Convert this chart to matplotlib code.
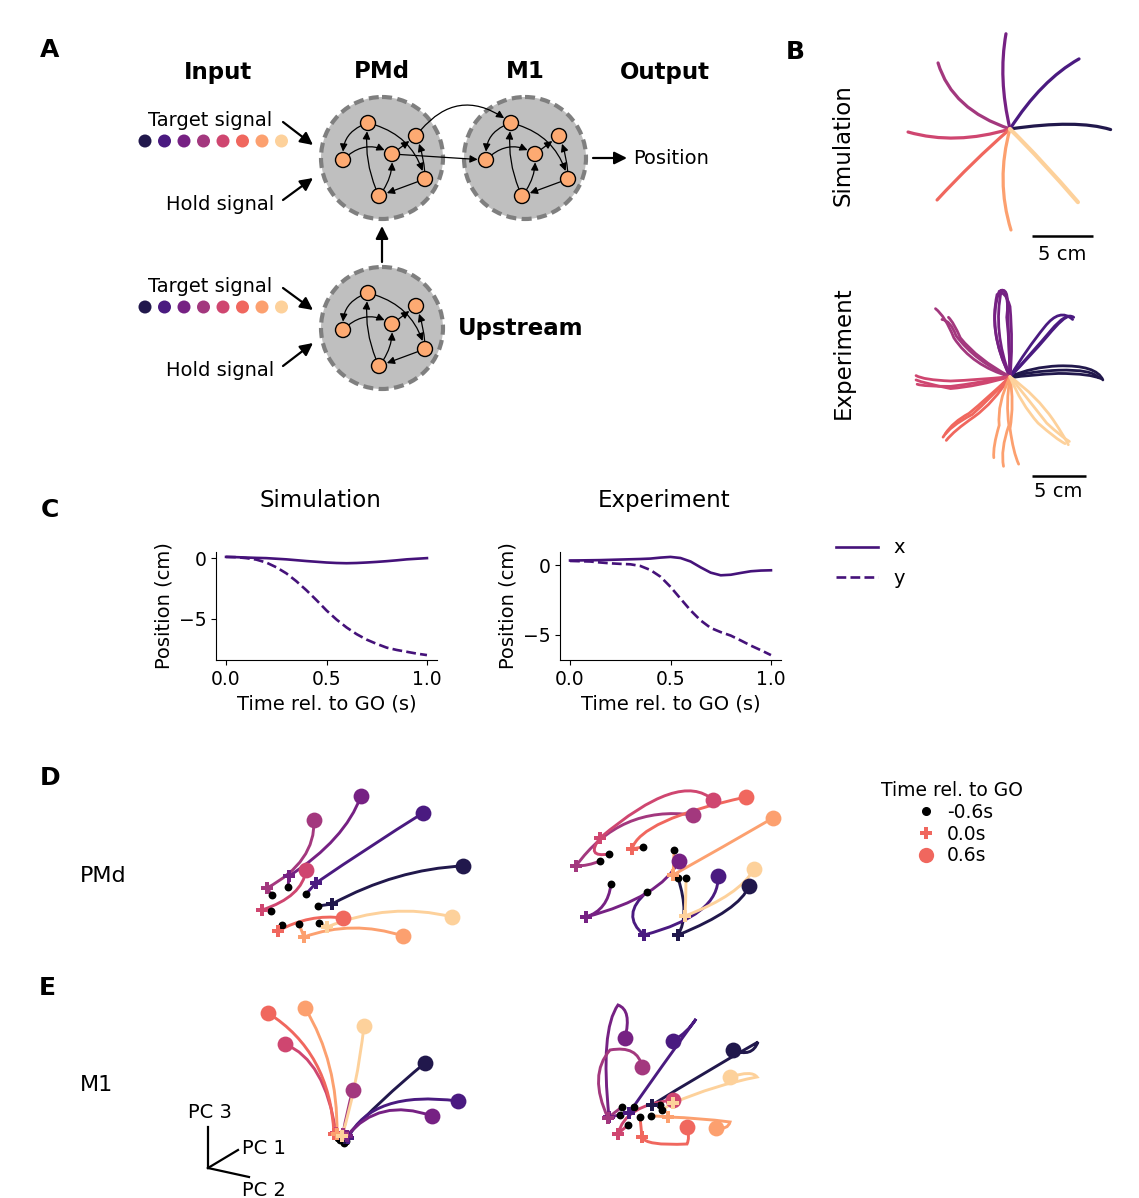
import numpy as np
import matplotlib
matplotlib.use("Agg")
import matplotlib.pyplot as plt
from matplotlib.path import Path
from matplotlib.patches import PathPatch, Circle, FancyArrowPatch
from matplotlib.lines import Line2D

plt.rcParams["font.family"] = "DejaVu Sans"
plt.rcParams["font.size"] = 14

# ---- data ----
TARGET_COLORS = ["#21184c", "#4a1a80", "#762183", "#a3387e",
                 "#cf4670", "#f0675e", "#fca06f", "#fdd19b"]

# panel A schematic: node offsets from module centre, edges (from, to, curvature)
NODE_DX = [-14, 34, -39, 10, 43, -3]
NODE_DY = [-35, -22, 2, -4, 21, 38]
EDGES = [(0, 2, 0.4), (2, 3, -0.4), (0, 4, -0.3), (5, 0, -0.15),
         (5, 3, 0.2), (4, 5, 0.0), (4, 1, 0.1), (3, 1, 0.0)]
MODULES = {"PMd": (382, 158), "M1": (525, 158), "Upstream": (382, 328)}

# panel B simulation reaches (cm): quadratic control point and end point
SIM_CTRL = [(5.5, 0.8), (2.57, 4.01), (-0.98, 4.14), (-4.75, 1.56),
            (-4.5, -1.36), (-3.07, -2.67), (-1.18, -4.22), (2.62, -2.58)]
SIM_END = [(8.25, -0.05), (5.66, 5.74), (-0.33, 7.8), (-5.9, 5.41),
           (-8.36, -0.25), (-5.98, -5.82), (0.08, -8.28), (5.57, -6.0)]

# panel B experimental reaches (cm), three trials per target
EXP_REACHES = [
    [[(0, 0), (2, 0.9), (4.5, 1.0), (8, 1.1), (8.6, -0.3)],
     [(0, 0), (2, 0.5), (4.5, 0.6), (7.6, 0.7), (8.2, -0.1)],
     [(0, -0.1), (2, 0.2), (4.5, 0.3), (7.4, 0.3), (8.5, -0.2)]],
    [[(0, 0), (1.5, 2.5), (3.2, 4.6), (4.6, 6.4), (5.8, 5.3)],
     [(0, 0), (2.2, 2.4), (3.8, 4.3), (5.2, 6.0), (5.9, 5.5)],
     [(0, 0), (1.8, 1.8), (3.5, 3.8), (5.0, 5.6), (5.5, 5.6)]],
    [[(0, 0), (-2.2, 4.5), (-1.0, 7.9), (-0.2, 8.4), (-0.2, 6.0), (-0.1, 3.0), (0, 0)],
     [(0, 0), (-2.0, 4.0), (-1.2, 7.6), (-0.5, 8.2), (0.0, 6.5), (0.3, 3.0), (0, 0)],
     [(0, 0), (-1.6, 4.2), (-0.8, 8.0), (0.0, 8.2), (-0.3, 5.5), (0.0, 2.5), (0, 0)]],
    [[(0, 0), (-3.5, 1.0), (-5.2, 3.6), (-6.0, 5.6), (-6.9, 6.3)],
     [(0, 0), (-3.2, 1.4), (-5.0, 3.8), (-5.5, 5.2), (-6.3, 5.3)],
     [(0, 0), (-3.0, 1.6), (-4.6, 3.6), (-5.2, 5.0), (-5.7, 5.5)]],
    [[(0, 0), (-3, -0.3), (-5.5, -0.4), (-8, -0.3), (-8.7, 0.1)],
     [(0, 0), (-3, -0.6), (-5.5, -0.9), (-8, -0.9), (-8.6, -0.7)],
     [(0, 0), (-3, -0.9), (-5.5, -1.1), (-8, -0.6), (-8.7, -0.3)]],
    [[(0, 0), (-1.8, -2.0), (-3.5, -3.5), (-5.6, -4.6), (-6.2, -5.6)],
     [(0, 0), (-1.5, -2.4), (-3.3, -3.7), (-5.2, -5.0), (-5.9, -5.9)],
     [(0, 0), (-2.1, -2.0), (-3.8, -3.4), (-5.3, -4.2), (-6.0, -5.3)]],
    [[(0, 0), (-1.2, -2.5), (-1.0, -4.5), (-1.6, -6.5), (-1.5, -7.5)],
     [(0, 0), (-0.4, -2.5), (-0.1, -4.5), (-0.9, -6.8), (-0.6, -8.3)],
     [(0, 0), (0.4, -2.5), (0.0, -4.8), (0.3, -7.0), (0.8, -8.1)]],
    [[(0, 0), (2.5, -1.8), (4.0, -4.0), (5.2, -5.8), (5.4, -6.3)],
     [(0, 0), (1.0, -2.5), (2.6, -4.3), (4.3, -5.8), (5.1, -6.2)],
     [(0, 0), (2.0, -2.5), (3.4, -4.3), (4.8, -5.6), (5.5, -6.0)]],
]

# panel C hand position for one target
TIME = [0.0, 0.05, 0.1, 0.15, 0.2, 0.25, 0.3, 0.35, 0.4, 0.45, 0.5,
        0.55, 0.6, 0.65, 0.7, 0.75, 0.8, 0.85, 0.9, 0.95, 1.0]
SIM_X = [0.1, 0.08, 0.05, 0.02, 0.0, -0.05, -0.1, -0.17, -0.24, -0.3, -0.36,
         -0.4, -0.42, -0.4, -0.36, -0.31, -0.25, -0.18, -0.1, -0.05, 0.0]
SIM_Y = [0.1, 0.08, 0.0, -0.12, -0.36, -0.75, -1.25, -1.9, -2.64, -3.45, -4.3,
         -5.05, -5.7, -6.25, -6.7, -7.05, -7.36, -7.55, -7.7, -7.85, -7.97]
EXP_X = [0.34, 0.35, 0.36, 0.37, 0.39, 0.41, 0.43, 0.45, 0.48, 0.55, 0.6,
         0.52, 0.27, -0.15, -0.53, -0.72, -0.68, -0.55, -0.43, -0.38, -0.36]
EXP_Y = [0.31, 0.29, 0.27, 0.2, 0.14, 0.1, 0.07, -0.05, -0.34, -0.82, -1.55,
         -2.4, -3.24, -3.96, -4.5, -4.8, -5.05, -5.4, -5.77, -6.1, -6.45]

# panels D/E: projected trajectories, [start, ctrl, GO, ctrl, pt, ..., end]
D_SIM_TRAJ = [
    [(318, 906), (325, 905), (332, 904), (396.5, 869), (463, 866)],
    [(306, 894), (311, 888.5), (316, 883), (370, 846), (423, 813)],
    [(288, 887), (288.5, 881.5), (289, 876), (345, 840), (361, 796)],
    [(272, 895), (269.5, 891.5), (267, 888), (315.5, 862), (314, 820)],
    [(271, 911), (266.5, 910.5), (262, 910), (302.6, 896.6), (306, 870)],
    [(282, 925), (280, 928), (278, 931), (309.5, 913.5), (343, 918)],
    [(299, 924), (301.5, 930.5), (304, 937), (352.5, 919.5), (403, 936)],
    [(319, 923), (323, 925), (327, 927), (390.5, 901.4), (452, 917)],
]
D_EXP_TRAJ = [
    [(678, 878), (690, 915), (678, 935), (740, 910), (749, 886)],
    [(647, 892), (620, 915), (644, 935), (720, 915), (718, 876)],
    [(611, 884), (608, 910), (586, 917), (661, 897), (679, 861)],
    [(600, 861), (588, 866), (576, 866), (620, 805), (693, 815)],
    [(609, 854), (585, 858), (600, 838), (680, 770), (713, 800)],
    [(643, 847), (637, 848), (632, 849), (640, 820), (746, 797)],
    [(674, 850), (674, 862), (673, 875), (723, 847), (773, 818)],
    [(686, 878), (686, 897), (685, 916), (740, 895), (754, 869)],
]
E_SIM_TRAJ = [
    [(346, 1141), (345.5, 1139.5), (345, 1138), (380, 1100), (425, 1063)],
    [(344, 1143), (346, 1140.5), (348, 1138), (372, 1090), (458, 1101)],
    [(343, 1140), (345, 1138), (347, 1136), (379, 1097), (432, 1116)],
    [(341, 1139), (342, 1136.5), (343, 1134), (347, 1110), (353, 1090)],
    [(338, 1138), (337, 1135.5), (336, 1133), (325, 1060), (285, 1044)],
    [(337, 1136), (335.5, 1135), (334, 1134), (330, 1052), (268, 1013)],
    [(340, 1140), (338.5, 1137), (337, 1134), (338, 1062), (305, 1008)],
    [(344, 1142), (343, 1139), (342, 1136), (357, 1087), (364, 1026)],
]
E_EXP_TRAJ = [
    [(660, 1105), (656, 1105), (652, 1105), (700, 1075), (758, 1042), (752, 1058), (733, 1050)],
    [(634, 1107), (631, 1110), (629, 1113), (662, 1066), (696, 1019), (688, 1032), (673, 1041)],
    [(620, 1115), (614, 1116), (609, 1117), (600, 1030), (618, 1005), (632, 1010), (625, 1038)],
    [(622, 1107), (615, 1112), (608, 1118), (588, 1075), (610, 1050), (638, 1045), (642, 1067)],
    [(628, 1125), (622, 1130), (618, 1134), (625, 1105), (673, 1100)],
    [(640, 1117), (641, 1127), (642, 1137), (645, 1146), (687, 1144), (690, 1138), (687, 1127)],
    [(651, 1116), (660, 1116), (668, 1117), (700, 1118), (730, 1122), (728, 1130), (716, 1128)],
    [(662, 1110), (668, 1106), (673, 1103), (715, 1085), (757, 1077), (752, 1070), (730, 1077)],
]

W, H = 1139, 1198
fig = plt.figure(figsize=(W / 100, H / 100), dpi=100)


def px_axes(x0, y0, x1, y1):
    return fig.add_axes([x0 / W, 1 - y1 / H, (x1 - x0) / W, (y1 - y0) / H])


def bezier(pts):
    codes = [Path.MOVETO] + [Path.CURVE3] * (len(pts) - 1)
    return Path(pts, codes)


# ---- overlay for schematic and lettering ----
ov = fig.add_axes([0, 0, 1, 1])
ov.set_xlim(0, W)
ov.set_ylim(H, 0)
ov.axis("off")

for lab, (x, y) in zip("ABCDE", [(50, 50), (795, 52), (50, 510), (50, 778), (47, 988)]):
    ov.text(x, y, lab, fontsize=18, fontweight="bold", ha="center", va="center")

# ---- panel A ----
def draw_module(cx, cy):
    ov.add_patch(Circle((cx, cy), 61, facecolor="#bfbfbf", edgecolor="#7f7f7f",
                        lw=3, ls=(0, (2.4, 1.3)), zorder=1))
    nodes = [(cx + dx, cy + dy) for dx, dy in zip(NODE_DX, NODE_DY)]
    for a, b, rad in EDGES:
        ov.add_patch(FancyArrowPatch(nodes[a], nodes[b], connectionstyle=f"arc3,rad={rad}",
                                     arrowstyle="-|>,head_length=0.45,head_width=0.22",
                                     mutation_scale=10, lw=0.9, color="k",
                                     shrinkA=5.5, shrinkB=6, zorder=2))
    for (x, y) in nodes:
        ov.add_patch(Circle((x, y), 7.5, facecolor="#fdaa72", edgecolor="k", lw=1, zorder=3))
    return nodes


pmd_nodes = draw_module(*MODULES["PMd"])
m1_nodes = draw_module(*MODULES["M1"])
draw_module(*MODULES["Upstream"])

for a, b, rad in [(1, 0, -0.5), (3, 2, 0.0)]:
    ov.add_patch(FancyArrowPatch(pmd_nodes[a], m1_nodes[b], connectionstyle=f"arc3,rad={rad}",
                                 arrowstyle="-|>,head_length=0.45,head_width=0.22",
                                 mutation_scale=10, lw=0.9, color="k",
                                 shrinkA=5.5, shrinkB=6, zorder=2))

big = dict(arrowstyle="-|>,head_length=0.5,head_width=0.25", mutation_scale=15,
           lw=1.6, color="k", shrinkA=0, shrinkB=0, zorder=4)
for p0, p1 in [((283, 122), (313, 145)), ((283, 200), (313, 178)),
               ((283, 288), (313, 310)), ((283, 366), (313, 343)),
               ((382, 262), (382, 226)), ((593, 158), (627, 158))]:
    ov.add_patch(FancyArrowPatch(p0, p1, **big))

for row_y in (141, 307):
    for i, c in enumerate(TARGET_COLORS):
        ov.add_patch(Circle((145 + 19.5 * i, row_y), 6.5, facecolor=c, edgecolor="none"))
    ov.text(210, row_y - 21, "Target signal", ha="center", va="center", fontsize=14)
    ov.text(220, row_y + 63, "Hold signal", ha="center", va="center", fontsize=14)

for txt, x in [("Input", 218), ("PMd", 382), ("M1", 525), ("Output", 665)]:
    ov.text(x, 72, txt, ha="center", va="center", fontsize=16.5, fontweight="bold")
ov.text(458, 329, "Upstream", ha="left", va="center", fontsize=16.5, fontweight="bold")
ov.text(633, 159, "Position", ha="left", va="center", fontsize=14)

# ---- panel B ----
b_sim = px_axes(895, 25, 1125, 265)
b_sim.set_xlim(-9.43, 9.43)
b_sim.set_ylim(-11.15, 8.52)
b_sim.axis("off")
for i, c in enumerate(TARGET_COLORS):
    lw = 3.0 if i == 7 else 2.3
    b_sim.add_patch(PathPatch(bezier([(0, 0), SIM_CTRL[i], SIM_END[i]]), facecolor="none",
                              edgecolor=c, lw=lw, capstyle="round"))
b_sim.plot([1.8, 6.8], [-8.77, -8.77], color="k", lw=1.8, solid_capstyle="butt")
b_sim.text(4.3, -10.3, "5 cm", ha="center", va="center", fontsize=14)

b_exp = px_axes(895, 270, 1125, 500)
b_exp.set_xlim(-10.65, 10.65)
b_exp.set_ylim(-11.42, 9.88)
b_exp.axis("off")
for i, c in enumerate(TARGET_COLORS):
    for trial in EXP_REACHES[i]:
        b_exp.add_patch(PathPatch(bezier(trial), facecolor="none", edgecolor=c,
                                  lw=2.0, capstyle="round"))
b_exp.plot([2.0, 7.0], [-9.17, -9.17], color="k", lw=1.8, solid_capstyle="butt")
b_exp.text(4.5, -10.65, "5 cm", ha="center", va="center", fontsize=14)

ov.text(843, 145, "Simulation", rotation=90, ha="center", va="center", fontsize=16.5)
ov.text(843, 353, "Experiment", rotation=90, ha="center", va="center", fontsize=16.5)

# ---- panel C ----
line_col = "#45127a"
c_handles = None
for box, xs, ys, title in [((216, 552, 437, 660), SIM_X, SIM_Y, "Simulation"),
                           ((560, 552, 781, 660), EXP_X, EXP_Y, "Experiment")]:
    ax = px_axes(*box)
    hx, = ax.plot(TIME, xs, color=line_col, lw=1.9)
    hy, = ax.plot(TIME, ys, color=line_col, lw=1.9, ls="--")
    if c_handles is None:
        c_handles = [hx, hy]
    ax.set_xticks([0.0, 0.5, 1.0])
    ax.set_yticks([-5, 0])
    ax.tick_params(labelsize=13.5)
    ax.set_xlabel("Time rel. to GO (s)", fontsize=14)
    ax.set_ylabel("Position (cm)", fontsize=14)
    ax.spines["top"].set_visible(False)
    ax.spines["right"].set_visible(False)
    ax.text(0.473, 1.48, title, transform=ax.transAxes, ha="center", va="center", fontsize=16.5)

fig.legend(c_handles, ["x", "y"], loc="upper left", bbox_to_anchor=(818 / W, 1 - 521 / H),
           frameon=False, handlelength=2.2, fontsize=14, labelspacing=0.6)

# ---- panels D and E ----
def draw_pca(box, trajs):
    x0, y0, x1, y1 = box
    ax = px_axes(x0, y0, x1, y1)
    ax.set_xlim(x0, x1)
    ax.set_ylim(y1, y0)
    ax.axis("off")
    for traj, c in zip(trajs, TARGET_COLORS):
        ax.add_patch(PathPatch(bezier(traj), facecolor="none", edgecolor=c, lw=2.1,
                               capstyle="round", zorder=2))
    for traj, c in zip(trajs, TARGET_COLORS):
        ax.scatter([traj[0][0]], [traj[0][1]], s=32, color="k", lw=0, zorder=3)
        ax.scatter([traj[2][0]], [traj[2][1]], s=85, marker="P", color=c, lw=0, zorder=4)
        ax.scatter([traj[-1][0]], [traj[-1][1]], s=130, marker="o", color=c, lw=0, zorder=4)
    return ax


draw_pca((240, 770, 490, 955), D_SIM_TRAJ)
draw_pca((560, 760, 800, 955), D_EXP_TRAJ)
draw_pca((240, 990, 490, 1160), E_SIM_TRAJ)
draw_pca((570, 990, 790, 1160), E_EXP_TRAJ)

ov.text(80, 876, "PMd", ha="left", va="center", fontsize=16)
ov.text(80, 1085, "M1", ha="left", va="center", fontsize=16)

# PC axes indicator
ov.plot([208, 208], [1168, 1127], color="k", lw=1.6)
ov.plot([208, 238], [1168, 1150], color="k", lw=1.6)
ov.plot([208, 249], [1168, 1177], color="k", lw=1.6)
ov.text(210, 1112, "PC 3", ha="center", va="center", fontsize=14)
ov.text(242, 1149, "PC 1", ha="left", va="center", fontsize=14)
ov.text(242, 1190, "PC 2", ha="left", va="center", fontsize=14)

leg_col = TARGET_COLORS[5]
d_handles = [Line2D([], [], ls="none", marker="o", color="k", ms=5.5),
             Line2D([], [], ls="none", marker="P", color=leg_col, ms=9, mew=0),
             Line2D([], [], ls="none", marker="o", color=leg_col, ms=11, mew=0)]
fig.legend(d_handles, ["-0.6s", "0.0s", "0.6s"], title="Time rel. to GO",
           loc="upper left", bbox_to_anchor=(866 / W, 1 - 766 / H), frameon=False,
           fontsize=13.5, title_fontsize=13.5, handletextpad=0.3, labelspacing=0.15,
           handlelength=1.6, borderpad=0.3)

fig.savefig("out.png", dpi=100)
